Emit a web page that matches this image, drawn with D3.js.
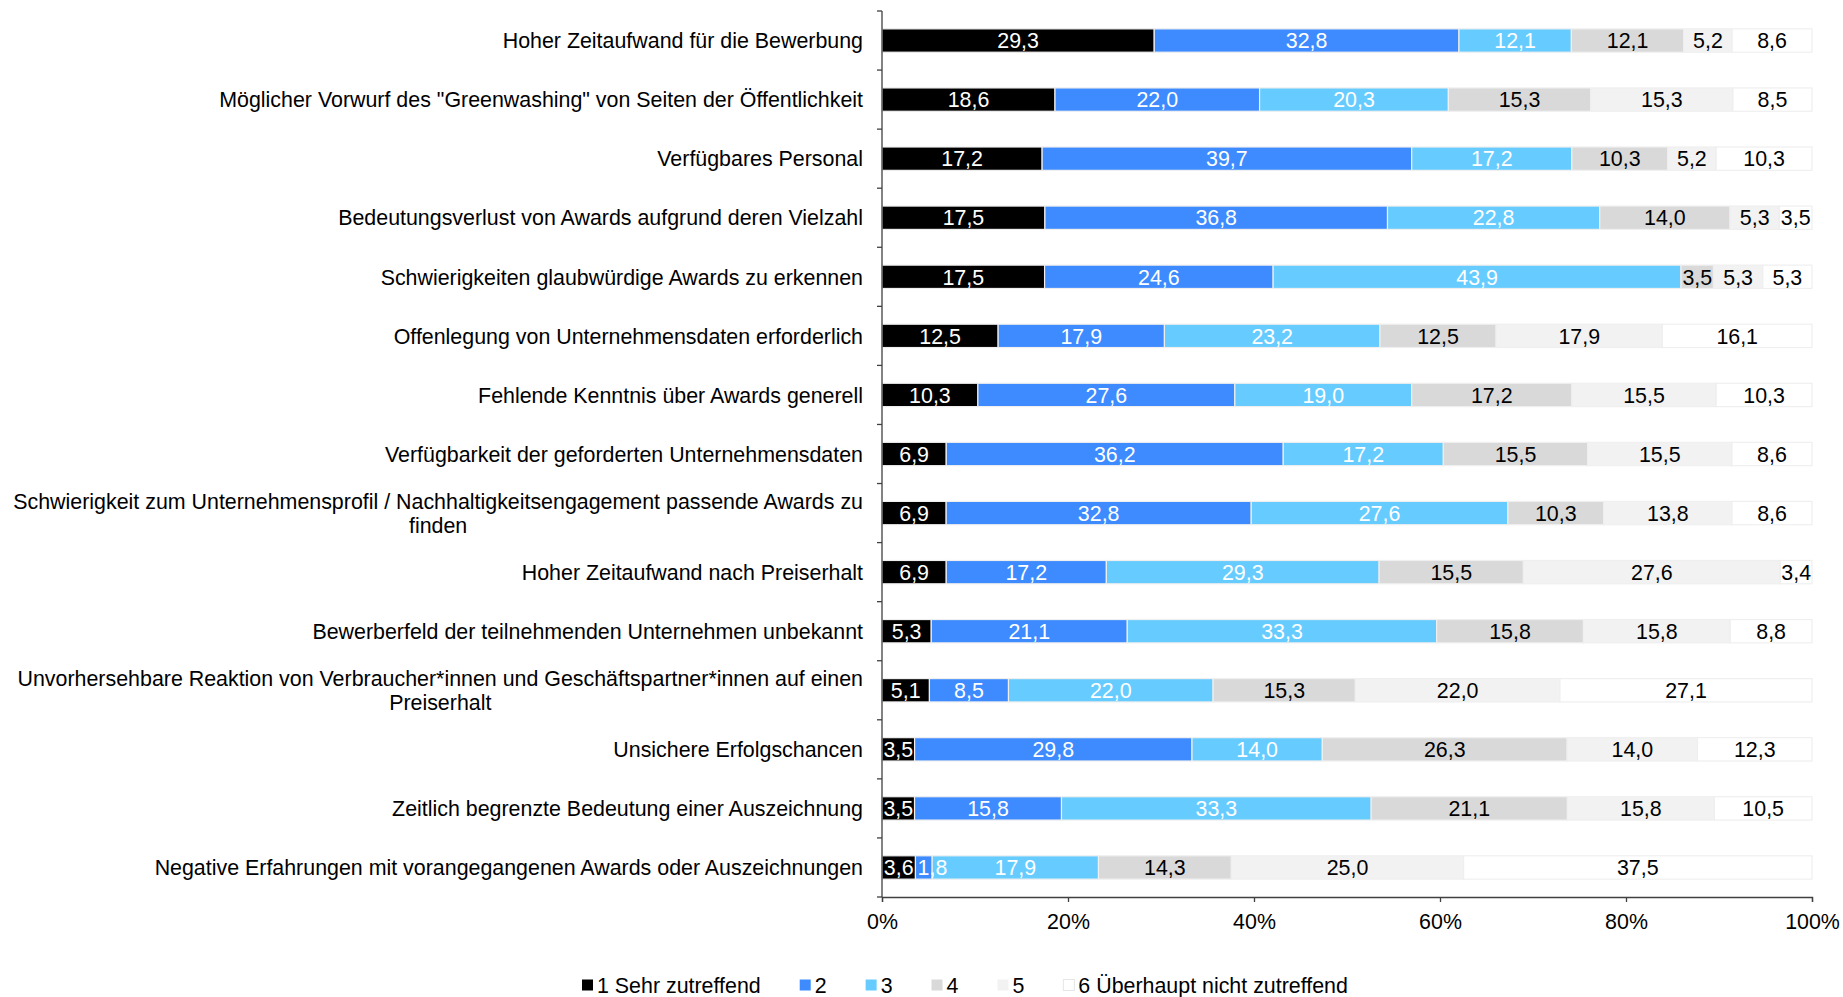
<!DOCTYPE html>
<html>
<head>
<meta charset="utf-8">
<script src="https://cdn.jsdelivr.net/npm/d3@7"></script>
<style>
  html, body { margin: 0; padding: 0; background: #fff; }
  svg { display: block; font-family: "Liberation Sans", Arial, sans-serif; }
</style>
</head>
<body>
<svg id="chart" width="1843" height="997"></svg>
<script>
const categories = [
  "Hoher Zeitaufwand für die Bewerbung",
  "Möglicher Vorwurf des \"Greenwashing\" von Seiten der Öffentlichkeit",
  "Verfügbares Personal",
  "Bedeutungsverlust von Awards aufgrund deren Vielzahl",
  "Schwierigkeiten glaubwürdige Awards zu erkennen",
  "Offenlegung von Unternehmensdaten erforderlich",
  "Fehlende Kenntnis über Awards generell",
  "Verfügbarkeit der geforderten Unternehmensdaten",
  "Schwierigkeit zum Unternehmensprofil / Nachhaltigkeitsengagement passende Awards zu\nfinden",
  "Hoher Zeitaufwand nach Preiserhalt",
  "Bewerberfeld der teilnehmenden Unternehmen unbekannt",
  "Unvorhersehbare Reaktion von Verbraucher*innen und Geschäftspartner*innen auf einen\nPreiserhalt",
  "Unsichere Erfolgschancen",
  "Zeitlich begrenzte Bedeutung einer Auszeichnung",
  "Negative Erfahrungen mit vorangegangenen Awards oder Auszeichnungen"
];

const seriesNames = ["1 Sehr zutreffend", "2", "3", "4", "5", "6 Überhaupt nicht zutreffend"];

const s1 = [29.3, 18.6, 17.2, 17.5, 17.5, 12.5, 10.3, 6.9, 6.9, 6.9, 5.3, 5.1, 3.5, 3.5, 3.6];
const s2 = [32.8, 22.0, 39.7, 36.8, 24.6, 17.9, 27.6, 36.2, 32.8, 17.2, 21.1, 8.5, 29.8, 15.8, 1.8];
const s3 = [12.1, 20.3, 17.2, 22.8, 43.9, 23.2, 19.0, 17.2, 27.6, 29.3, 33.3, 22.0, 14.0, 33.3, 17.9];
const s4 = [12.1, 15.3, 10.3, 14.0, 3.5, 12.5, 17.2, 15.5, 10.3, 15.5, 15.8, 15.3, 26.3, 21.1, 14.3];
const s5 = [5.2, 15.3, 5.2, 5.3, 5.3, 17.9, 15.5, 15.5, 13.8, 27.6, 15.8, 22.0, 14.0, 15.8, 25.0];
const s6 = [8.6, 8.5, 10.3, 3.5, 5.3, 16.1, 10.3, 8.6, 8.6, 3.4, 8.8, 27.1, 12.3, 10.5, 37.5];

const xTicks = [0, 0.2, 0.4, 0.6, 0.8, 1.0];

const colors = ["#000000", "#3d8bff", "#66ccff", "#d9d9d9", "#f2f2f2", "#ffffff"];
const labelColors = ["#ffffff", "#ffffff", "#ffffff", "#000000", "#000000", "#000000"];

const seriesValues = [s1, s2, s3, s4, s5, s6];
const rows = categories.map((c, i) => {
  const r = { cat: c };
  seriesNames.forEach((s, j) => r[s] = seriesValues[j][i]);
  return r;
});

const svg = d3.select("#chart");
const FONT = 21.4;
const plotLeft = 882, plotRight = 1812, plotTop = 11, plotBottom = 897;

const x = d3.scaleLinear().domain([0, 1]).range([plotLeft, plotRight]);
const y = d3.scaleBand().domain(categories).range([plotTop, plotBottom])
  .paddingInner(0.605).paddingOuter(0.3025);

const stack = d3.stack().keys(seriesNames).offset(d3.stackOffsetExpand);
const stacked = stack(rows);

// bars
const g = svg.append("g");
stacked.forEach((layer, j) => {
  const lg = g.append("g");
  lg.selectAll("rect").data(layer).join("rect")
    .attr("x", d => x(d[0]))
    .attr("y", d => y(d.data.cat))
    .attr("width", d => Math.max(0, x(d[1]) - x(d[0])))
    .attr("height", y.bandwidth())
    .attr("fill", colors[j])
    .attr("stroke", "#efefef")
    .attr("stroke-width", 1.2);
});
// labels (shift right when colliding with previous label in the same row)
const lblG = g.append("g");
categories.forEach((c, i) => {
  let prevRight = -Infinity;
  stacked.forEach((layer, j) => {
    const d = layer[i];
    const cx = (x(d[0]) + x(d[1])) / 2;
    const t = lblG.append("text")
      .attr("y", y(c) + y.bandwidth() / 2)
      .attr("dy", "0.36em")
      .attr("text-anchor", "middle")
      .attr("font-size", FONT)
      .attr("fill", labelColors[j])
      .text(seriesValues[j][i].toFixed(1).replace(".", ","));
    const w = t.node().getComputedTextLength();
    let px = cx;
    if (px - w / 2 < prevRight + 4) px = prevRight + 4 + w / 2;
    t.attr("x", px);
    prevRight = px + w / 2;
  });
});

// x axis
const xAxis = d3.axisBottom(x).tickValues(xTicks).tickSize(5).tickPadding(12)
  .tickFormat(d => Math.round(d * 100) + "%");
const xg = svg.append("g").attr("transform", `translate(0,${plotBottom})`).call(xAxis);
xg.select(".domain").attr("stroke", "#404040").attr("stroke-width", 1.3);
xg.selectAll(".tick line").attr("stroke", "#404040").attr("stroke-width", 1.3);
xg.selectAll(".tick text").attr("font-size", FONT).attr("fill", "#000")
  .attr("font-family", "Liberation Sans, Arial, sans-serif");

// y axis line + boundary ticks
const yb = svg.append("g");
yb.append("line").attr("x1", plotLeft).attr("x2", plotLeft).attr("y1", plotTop).attr("y2", plotBottom)
  .attr("stroke", "#404040").attr("stroke-width", 1.3);
d3.range(categories.length + 1).forEach(i => {
  const yy = plotTop + i * y.step();
  yb.append("line").attr("x1", plotLeft - 5).attr("x2", plotLeft).attr("y1", yy).attr("y2", yy)
    .attr("stroke", "#404040").attr("stroke-width", 1.3);
});

// category labels
const labelEnd = plotLeft - 19;
categories.forEach(c => {
  const lines = c.split("\n");
  const cy = y(c) + y.bandwidth() / 2;
  const lh = 23.5;
  const t = svg.append("text")
    .attr("font-size", FONT).attr("fill", "#000");
  if (lines.length === 1) {
    t.attr("x", labelEnd).attr("y", cy).attr("dy", "0.36em")
      .attr("text-anchor", "end").text(c);
  } else {
    const tmp = svg.append("text").attr("font-size", FONT).text(lines[0]);
    const w = d3.max(lines, l => { tmp.text(l); return tmp.node().getComputedTextLength(); });
    tmp.remove();
    const cx = labelEnd - w / 2;
    t.attr("text-anchor", "middle");
    lines.forEach((l, k) => {
      t.append("tspan").attr("x", cx)
        .attr("y", cy + (k - (lines.length - 1) / 2) * lh)
        .attr("dy", "0.36em").text(l);
    });
  }
});

// legend
const leg = svg.append("g").attr("transform", "translate(582,985)");
let lx = 0;
seriesNames.forEach((s, j) => {
  const it = leg.append("g").attr("transform", `translate(${lx},0)`);
  it.append("rect").attr("x", 0).attr("y", -5.5).attr("width", 11).attr("height", 11)
    .attr("fill", colors[j]).attr("stroke", j === 5 ? "#e6e6e6" : "none").attr("stroke-width", 1);
  const tx = it.append("text").attr("x", 15).attr("y", 0).attr("dy", "0.36em")
    .attr("font-size", FONT).attr("fill", "#000").text(s);
  lx += 15 + tx.node().getComputedTextLength() + 39;
});
</script>
</body>
</html>
